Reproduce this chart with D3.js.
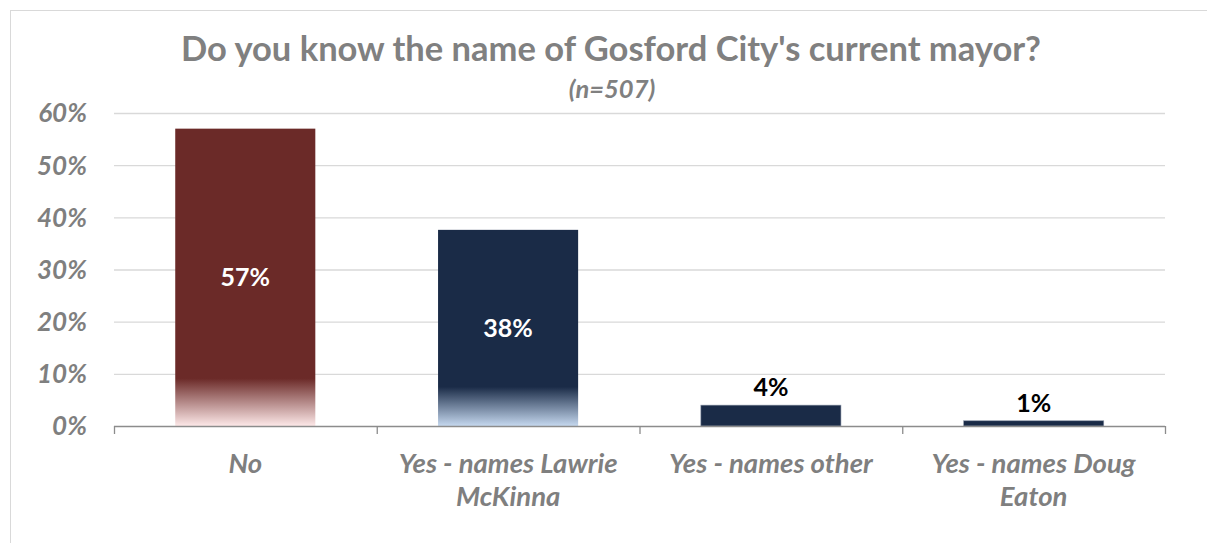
<!DOCTYPE html>
<html><head><meta charset="utf-8">
<script src="https://cdn.jsdelivr.net/npm/d3@7"></script>
<style>body{margin:0;background:#fff}svg{display:block}text{font-family:Lato,"Open Sans",sans-serif}</style>
</head><body>
<svg id="c" width="1207" height="543"></svg>
<script>
const categories = ["No", "Yes - names Lawrie McKinna", "Yes - names other", "Yes - names Doug Eaton"];
const categoryLines = [["No"], ["Yes - names Lawrie", "McKinna"], ["Yes - names other"], ["Yes - names Doug", "Eaton"]];
const values = [57, 37.6, 4, 1];
const valueLabels = ["57%", "38%", "4%", "1%"];
const barColors = ["#6b2a28", "#1a2b47", "#1a2b47", "#1a2b47"];
const fadeColors = ["#fde8e8", "#c5d8ef", null, null];
const yTicks = [0, 10, 20, 30, 40, 50, 60];
const title = "Do you know the name of Gosford City's current mayor?";
const subtitle = "(n=507)";

const svg = d3.select("#c");
const m = {l:114, r:1165, t:113, b:426};
svg.append("rect").attr("x",10.5).attr("y",10.5).attr("width",1210).attr("height",560)
  .attr("fill","none").attr("stroke","#d9d9d9");

const x = d3.scaleBand().domain(categories).range([m.l, m.r]).paddingInner(0.467).paddingOuter(0.233);
const y = d3.scaleLinear().domain([0,60]).range([m.b, m.t]);

const defs = svg.append("defs");
categories.forEach((c,i)=>{
  if(!fadeColors[i]) return;
  const g = defs.append("linearGradient").attr("id","g"+i).attr("x1",0).attr("y1",0).attr("x2",0).attr("y2",1);
  g.append("stop").attr("offset","0").attr("stop-color",barColors[i]);
  g.append("stop").attr("offset",i===0?"0.84":"0.80").attr("stop-color",barColors[i]);
  g.append("stop").attr("offset","1").attr("stop-color",fadeColors[i]);
});

// gridlines
svg.append("g").selectAll("line").data(yTicks.filter(d=>d>0)).join("line")
  .attr("x1",m.l).attr("x2",m.r).attr("y1",d=>y(d)+0.5).attr("y2",d=>y(d)+0.5)
  .attr("stroke","#d9d9d9").attr("stroke-width",1.3);

// y labels
svg.append("g").selectAll("text").data(yTicks).join("text")
  .attr("x",87).attr("y",d=>y(d)).attr("dy","0.36em").attr("text-anchor","end")
  .attr("font-size",26).attr("font-weight",700).attr("font-style","italic").attr("fill","#7f7f7f")
  .text(d=>d+"%");

// bars
svg.append("g").selectAll("rect").data(categories).join("rect")
  .attr("x",d=>x(d)).attr("width",x.bandwidth())
  .attr("y",(d,i)=>y(values[i])).attr("height",(d,i)=>y(0)-y(values[i]))
  .attr("fill",(d,i)=>fadeColors[i]?`url(#g${i})`:barColors[i])
  .attr("stroke",(d,i)=>fadeColors[i]?"none":"#8a94a6").attr("stroke-width",0.6);

// value labels
svg.append("g").selectAll("text").data(categories).join("text")
  .attr("x",d=>x(d)+x.bandwidth()/2)
  .attr("y",(d,i)=> values[i]>10 ? (y(values[i])+y(0))/2 : y(values[i])-9)
  .attr("dy",(d,i)=> values[i]>10 ? "0.36em" : "0")
  .attr("text-anchor","middle").attr("font-size",25).attr("font-weight",700)
  .attr("fill",(d,i)=> values[i]>10 ? "#ffffff" : "#000000")
  .text((d,i)=>valueLabels[i]);

// x axis
const xb = d3.scaleBand().domain(categories).range([m.l,m.r]);
const ax = svg.append("g");
ax.append("line").attr("x1",m.l).attr("x2",m.r).attr("y1",m.b+0.5).attr("y2",m.b+0.5).attr("stroke","#8c8c8c").attr("stroke-width",1.3);
const tickPos = categories.map(c=>xb(c)).concat([m.r]);
ax.selectAll("line.t").data(tickPos).join("line").attr("class","t")
  .attr("x1",d=>d+0.5).attr("x2",d=>d+0.5).attr("y1",m.b).attr("y2",m.b+8).attr("stroke","#8c8c8c").attr("stroke-width",1.3);

const xl = svg.append("g").selectAll("text").data(categories).join("text")
  .attr("x",d=>xb(d)+xb.bandwidth()/2).attr("y",473)
  .attr("text-anchor","middle").attr("font-size",27.5).attr("font-weight",700).attr("font-style","italic").attr("fill","#7f7f7f");
xl.each(function(d,i){
  d3.select(this).selectAll("tspan").data(categoryLines[i]).join("tspan")
    .attr("x",xb(d)+xb.bandwidth()/2).attr("dy",(t,j)=>j?33:0).text(t=>t);
});

// titles
svg.append("text").attr("x",611).attr("y",61).attr("text-anchor","middle")
  .attr("font-size",34.5).attr("font-weight",700).attr("fill","#808080").text(title);
svg.append("text").attr("x",612).attr("y",98).attr("text-anchor","middle")
  .attr("font-size",25.5).attr("font-weight",700).attr("font-style","italic").attr("fill","#808080").text(subtitle);
</script>
</body></html>
